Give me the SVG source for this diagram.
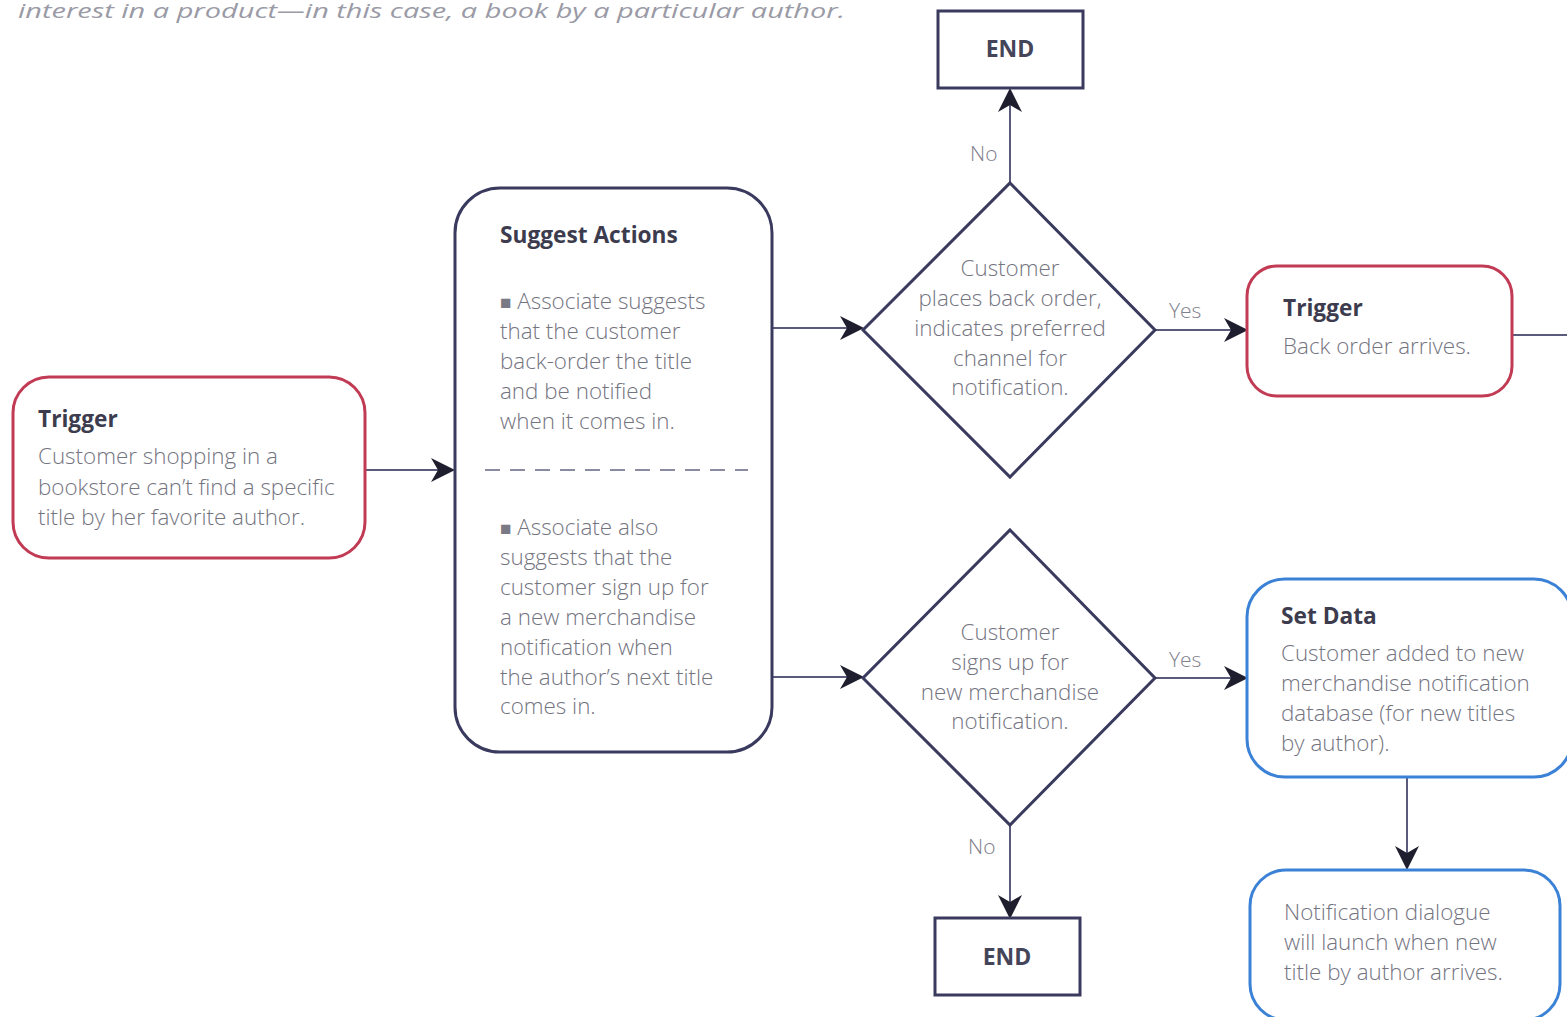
<svg xmlns="http://www.w3.org/2000/svg" width="1567" height="1017" viewBox="0 0 1567 1017">
<style>
  .bg { fill: #ffffff; }
  .box { fill: #ffffff; stroke-width: 3; }
  .red { stroke: #c23b55; }
  .blue { stroke: #3b82d6; }
  .navy { stroke: #3a3a5e; }
  .conn { stroke: #5a5a7a; stroke-width: 2; fill: none; }
  .title { font-family: "Open Sans", "Liberation Sans", sans-serif; font-weight: 700; font-size: 22.7px; fill: #3c3c4e; }
  .body { font-family: "Open Sans", "Liberation Sans", sans-serif; font-weight: 300; font-size: 22.4px; fill: #74747f; }
  .mid { text-anchor: middle; }
  .lbl { font-family: "Open Sans", "Liberation Sans", sans-serif; font-weight: 300; font-size: 21px; fill: #80808c; }
  .end { font-family: "Open Sans", "Liberation Sans", sans-serif; font-weight: 700; font-size: 23px; fill: #45455a; text-anchor: middle; }
  .bullet { fill: #7a7a86; font-size: 19px; font-family: "DejaVu Sans", sans-serif; }
  .cap { font-family: "Open Sans", "Liberation Sans", sans-serif; font-style: italic; font-size: 20px; fill: #9a9aa6; }
</style>
<defs>
  <marker id="arrL" viewBox="0 0 24 24" refX="22" refY="12" markerWidth="24" markerHeight="24" markerUnits="userSpaceOnUse" orient="auto">
    <path d="M0,0 L24,12 L0,24 L7,12 z" fill="#1e1e2e"/>
  </marker>
</defs>
<rect class="bg" x="0" y="0" width="1567" height="1017"/>
<text class="cap" x="18" y="18" textLength="827" lengthAdjust="spacingAndGlyphs">interest in a product—in this case, a book by a particular author.</text>

<g id="connectors">
  <line class="conn" x1="365" y1="470" x2="453" y2="470" marker-end="url(#arrL)"/>
  <line class="conn" x1="772" y1="328" x2="862" y2="328" marker-end="url(#arrL)"/>
  <line class="conn" x1="772" y1="677" x2="862" y2="677" marker-end="url(#arrL)"/>
  <line class="conn" x1="1010" y1="183" x2="1010" y2="90" marker-end="url(#arrL)"/>
  <text class="lbl" x="970" y="161">No</text>
  <line class="conn" x1="1155" y1="330" x2="1246" y2="330" marker-end="url(#arrL)"/>
  <text class="lbl" x="1169" y="318">Yes</text>
  <line class="conn" x1="1155" y1="678" x2="1246" y2="678" marker-end="url(#arrL)"/>
  <text class="lbl" x="1169" y="667">Yes</text>
  <line class="conn" x1="1010" y1="825" x2="1010" y2="917" marker-end="url(#arrL)"/>
  <text class="lbl" x="968" y="854">No</text>
  <line class="conn" x1="1407" y1="777" x2="1407" y2="868" marker-end="url(#arrL)"/>
  <line class="conn" x1="1512" y1="335" x2="1567" y2="335"/>
</g>

<g id="trigger1">
  <rect class="box red" x="13" y="377" width="352" height="181" rx="36"/>
  <text class="title" x="38" y="427">Trigger</text>
  <text class="body" x="38" y="464">Customer shopping in a</text>
  <text class="body" x="38" y="495">bookstore can’t find a specific</text>
  <text class="body" x="38" y="525">title by her favorite author.</text>
</g>

<g id="suggest">
  <rect class="box navy" x="455" y="188" width="317" height="564" rx="45"/>
  <text class="title" x="500" y="243">Suggest Actions</text>
  <text class="body" x="500" y="309"><tspan class="bullet">■</tspan> Associate suggests</text>
  <text class="body" x="500" y="339">that the customer</text>
  <text class="body" x="500" y="369">back-order the title</text>
  <text class="body" x="500" y="399">and be notified</text>
  <text class="body" x="500" y="429">when it comes in.</text>
  <line x1="485" y1="470" x2="748" y2="470" stroke="#8a8aa0" stroke-width="2" stroke-dasharray="15,10"/>
  <text class="body" x="500" y="535"><tspan class="bullet">■</tspan> Associate also</text>
  <text class="body" x="500" y="565">suggests that the</text>
  <text class="body" x="500" y="595">customer sign up for</text>
  <text class="body" x="500" y="625">a new merchandise</text>
  <text class="body" x="500" y="655">notification when</text>
  <text class="body" x="500" y="685">the author’s next title</text>
  <text class="body" x="500" y="714">comes in.</text>
</g>

<g id="decision1">
  <polygon class="box navy" points="1010,183 1155,330 1010,477 863,330"/>
  <text class="body mid" x="1010" y="276">Customer</text>
  <text class="body mid" x="1010" y="306">places back order,</text>
  <text class="body mid" x="1010" y="336">indicates preferred</text>
  <text class="body mid" x="1010" y="366">channel for</text>
  <text class="body mid" x="1010" y="395">notification.</text>
</g>

<g id="decision2">
  <polygon class="box navy" points="1010,530 1155,678 1010,825 863,678"/>
  <text class="body mid" x="1010" y="640">Customer</text>
  <text class="body mid" x="1010" y="670">signs up for</text>
  <text class="body mid" x="1010" y="700">new merchandise</text>
  <text class="body mid" x="1010" y="729">notification.</text>
</g>

<g id="end1">
  <rect class="box navy" x="938" y="11" width="145" height="77"/>
  <text class="end" x="1010" y="57">END</text>
</g>

<g id="end2">
  <rect class="box navy" x="935" y="918" width="145" height="77"/>
  <text class="end" x="1007" y="965">END</text>
</g>

<g id="trigger2">
  <rect class="box red" x="1247" y="266" width="265" height="130" rx="30"/>
  <text class="title" x="1283" y="316">Trigger</text>
  <text class="body" x="1283" y="354">Back order arrives.</text>
</g>

<g id="setdata">
  <rect class="box blue" x="1247" y="579" width="325" height="198" rx="38"/>
  <text class="title" x="1281" y="624">Set Data</text>
  <text class="body" x="1281" y="661">Customer added to new</text>
  <text class="body" x="1281" y="691">merchandise notification</text>
  <text class="body" x="1281" y="721">database (for new titles</text>
  <text class="body" x="1281" y="751">by author).</text>
</g>

<g id="notify">
  <rect class="box blue" x="1250" y="870" width="310" height="150" rx="36"/>
  <text class="body" x="1284" y="920">Notification dialogue</text>
  <text class="body" x="1284" y="950">will launch when new</text>
  <text class="body" x="1284" y="980">title by author arrives.</text>
</g>
</svg>
